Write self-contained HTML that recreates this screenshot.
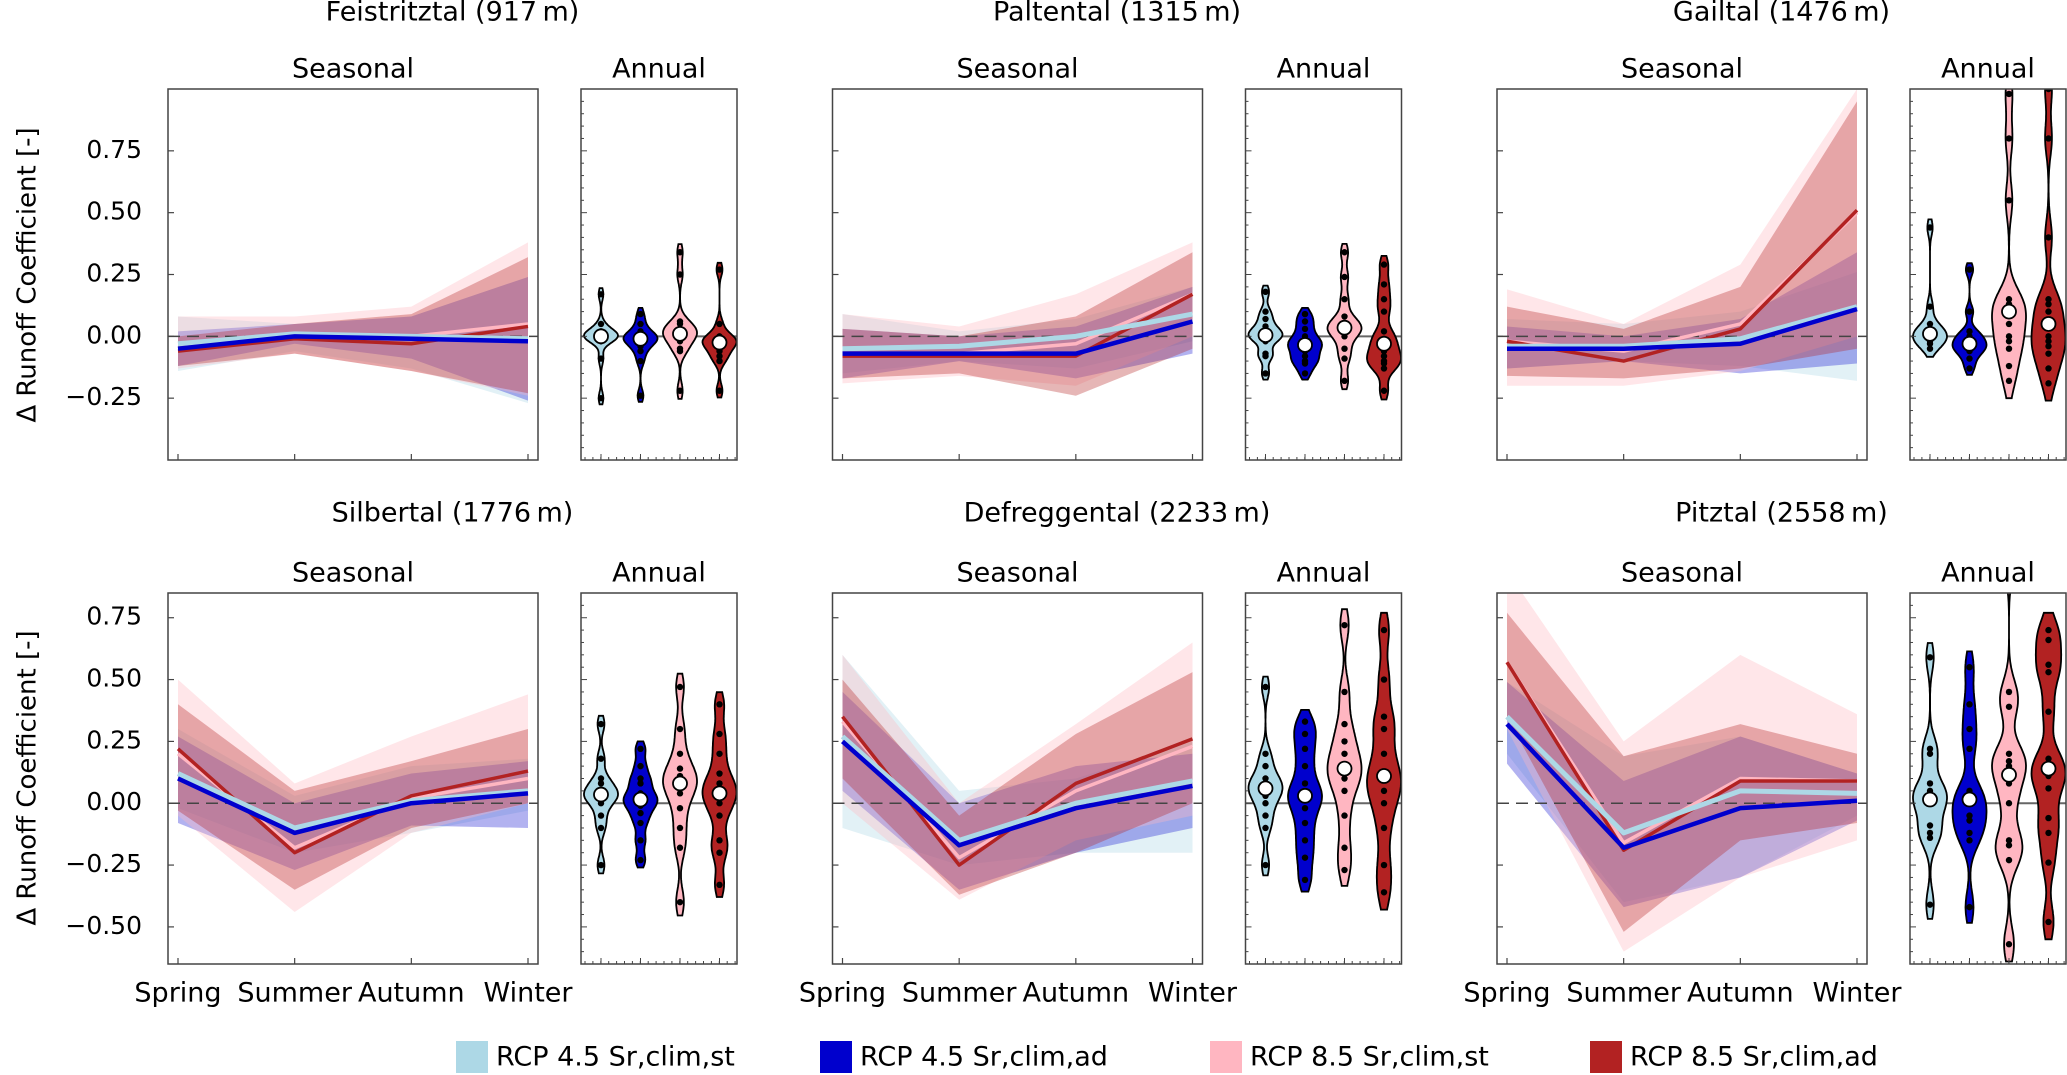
<!DOCTYPE html>
<html><head><meta charset="utf-8">
<style>
html,body{margin:0;padding:0;background:#fff;}
svg{display:block;font-family:"DejaVu Sans","Liberation Sans",sans-serif;}
</style></head>
<body>
<svg id="chart" width="2067" height="1075" viewBox="0 0 2067 1075" xmlns="http://www.w3.org/2000/svg">
<text x="0" y="0" transform="translate(28,275) rotate(-90)" font-size="26" text-anchor="middle" dominant-baseline="middle">Δ Runoff Coefficient [-]</text>
<text x="0" y="0" transform="translate(28,778) rotate(-90)" font-size="26" text-anchor="middle" dominant-baseline="middle">Δ Runoff Coefficient [-]</text>
<g id="legend">
<g><rect x="456" y="1041" width="32" height="32" fill="#add8e6"/><text x="496" y="1058" font-size="27" dominant-baseline="middle">RCP 4.5 Sr,clim,st</text></g>
<g><rect x="820" y="1041" width="32" height="32" fill="#0000cd"/><text x="860" y="1058" font-size="27" dominant-baseline="middle">RCP 4.5 Sr,clim,ad</text></g>
<g><rect x="1210" y="1041" width="32" height="32" fill="#ffb6c1"/><text x="1250" y="1058" font-size="27" dominant-baseline="middle">RCP 8.5 Sr,clim,st</text></g>
<g><rect x="1590" y="1041" width="32" height="32" fill="#b22222"/><text x="1630" y="1058" font-size="27" dominant-baseline="middle">RCP 8.5 Sr,clim,ad</text></g>
</g>
</svg>
<script>
const seasons = ['Spring','Summer','Autumn','Winter'];
const seriesColors = ['#add8e6','#0000cd','#ffb6c1','#b22222'];
const panelTitles = ['Feistritztal (917\u2009m)','Paltental (1315\u2009m)','Gailtal (1476\u2009m)','Silbertal (1776\u2009m)','Defreggental (2233\u2009m)','Pitztal (2558\u2009m)'];
const ticksTop = [0.75,0.5,0.25,0,-0.25];
const ticksBottom = [0.75,0.5,0.25,0,-0.25,-0.5];
const tickLabelsTop = ['0.75','0.50','0.25','0.00','\u22120.25'];
const tickLabelsBottom = ['0.75','0.50','0.25','0.00','\u22120.25','\u22120.50'];

// series order: light blue (4.5 st), blue (4.5 ad), pink (8.5 st), red (8.5 ad)
const feistritzMedian = [[-0.03,0.01,0.0,-0.01],[-0.05,0.0,-0.01,-0.02],[-0.03,0.0,0.0,0.05],[-0.06,-0.01,-0.03,0.04]];
const feistritzLow = [[-0.14,-0.06,-0.13,-0.27],[-0.12,-0.03,-0.09,-0.26],[-0.13,-0.07,-0.14,-0.24],[-0.12,-0.07,-0.14,-0.23]];
const feistritzHigh = [[0.08,0.05,0.08,0.24],[0.02,0.05,0.08,0.24],[0.08,0.08,0.12,0.38],[0.0,0.05,0.09,0.32]];
const paltenMedian = [[-0.05,-0.04,0.0,0.09],[-0.07,-0.07,-0.07,0.06],[-0.07,-0.07,-0.03,0.17],[-0.08,-0.08,-0.08,0.17]];
const paltenLow = [[-0.15,-0.1,-0.13,-0.02],[-0.17,-0.1,-0.17,-0.07],[-0.19,-0.16,-0.2,0.0],[-0.17,-0.15,-0.24,-0.05]];
const paltenHigh = [[0.09,0.02,0.07,0.2],[0.03,0.0,0.04,0.2],[0.09,0.04,0.17,0.38],[0.03,0.0,0.08,0.34]];
const gailMedian = [[-0.04,-0.04,-0.01,0.12],[-0.05,-0.05,-0.03,0.11],[-0.02,-0.06,0.05,0.5],[-0.02,-0.1,0.03,0.51]];
const gailLow = [[-0.13,-0.1,-0.12,-0.18],[-0.13,-0.1,-0.15,-0.11],[-0.2,-0.2,-0.14,0.0],[-0.16,-0.17,-0.13,-0.05]];
const gailHigh = [[0.07,0.05,0.1,0.26],[0.04,0.0,0.07,0.34],[0.19,0.05,0.29,1.0],[0.12,0.03,0.2,0.95]];
const silberMedian = [[0.12,-0.1,0.01,0.05],[0.1,-0.12,0.0,0.04],[0.2,-0.18,0.02,0.1],[0.22,-0.2,0.03,0.13]];
const silberLow = [[-0.02,-0.2,-0.12,-0.03],[-0.08,-0.27,-0.09,-0.1],[-0.05,-0.44,-0.12,0.0],[-0.03,-0.35,-0.1,0.0]];
const silberHigh = [[0.3,0.03,0.15,0.18],[0.27,0.0,0.12,0.17],[0.5,0.08,0.27,0.44],[0.4,0.05,0.17,0.3]];
const defregMedian = [[0.27,-0.15,0.0,0.09],[0.25,-0.17,-0.02,0.07],[0.33,-0.22,0.05,0.23],[0.35,-0.25,0.08,0.26]];
const defregLow = [[-0.1,-0.25,-0.2,-0.2],[0.05,-0.35,-0.2,-0.1],[0.0,-0.39,-0.15,-0.05],[0.1,-0.37,-0.2,0.0]];
const defregHigh = [[0.6,0.05,0.1,0.25],[0.45,0.0,0.15,0.2],[0.6,0.0,0.32,0.65],[0.5,-0.05,0.28,0.53]];
const pitzMedian = [[0.35,-0.12,0.05,0.04],[0.32,-0.18,-0.02,0.01],[0.57,-0.16,0.1,0.09],[0.57,-0.19,0.09,0.09]];
const pitzLow = [[0.2,-0.4,-0.3,-0.05],[0.16,-0.42,-0.3,-0.07],[0.3,-0.6,-0.3,-0.15],[0.35,-0.52,-0.15,-0.08]];
const pitzHigh = [[0.49,0.19,0.27,0.12],[0.49,0.09,0.27,0.12],[0.94,0.25,0.6,0.36],[0.77,0.19,0.32,0.2]];

const feistritzAnnual = [[-0.25,-0.09,-0.02,-0.01,0,0,0,0.01,0.01,0.02,0.05,0.17],[-0.24,-0.1,-0.06,-0.04,-0.02,-0.01,-0.01,0,0,0.02,0.05,0.09],[-0.22,-0.06,-0.05,-0.02,0,0.01,0.01,0.02,0.03,0.05,0.06,0.25,0.34],[-0.22,-0.1,-0.08,-0.06,-0.04,-0.03,-0.02,-0.01,-0.01,0,0.05,0.27]];
const paltenAnnual = [[-0.15,-0.08,-0.07,-0.02,0,0,0.01,0.02,0.04,0.07,0.1,0.18],[-0.15,-0.11,-0.1,-0.08,-0.06,-0.04,-0.03,-0.02,0,0.03,0.06,0.09],[-0.18,-0.09,-0.05,0,0.02,0.03,0.04,0.05,0.08,0.15,0.24,0.34],[-0.22,-0.13,-0.11,-0.1,-0.08,-0.06,-0.03,-0.01,0.02,0.1,0.15,0.21,0.29]];
const gailAnnual = [[-0.05,-0.03,-0.02,-0.01,0,0.01,0.02,0.03,0.05,0.12,0.44],[-0.13,-0.09,-0.06,-0.05,-0.04,-0.03,-0.01,0,0.02,0.1,0.27],[-0.18,-0.12,-0.05,-0.02,0,0.05,0.1,0.12,0.13,0.15,0.55,0.8,0.98],[-0.19,-0.13,-0.07,-0.04,-0.02,0,0.05,0.1,0.13,0.15,0.4,0.8,1.0]];
const silberAnnual = [[-0.25,-0.1,-0.05,0,0.02,0.03,0.04,0.05,0.08,0.1,0.18,0.32],[-0.23,-0.15,-0.08,-0.04,-0.01,0.01,0.02,0.04,0.08,0.1,0.15,0.22],[-0.4,-0.18,-0.1,-0.02,0.04,0.07,0.09,0.11,0.14,0.2,0.3,0.47],[-0.33,-0.2,-0.15,-0.05,0,0.03,0.05,0.08,0.12,0.2,0.28,0.4]];
const defregAnnual = [[-0.25,-0.1,-0.05,0,0.03,0.05,0.07,0.08,0.1,0.15,0.2,0.47],[-0.31,-0.22,-0.15,-0.08,-0.02,0.02,0.04,0.08,0.15,0.22,0.28,0.33],[-0.27,-0.18,-0.05,0.05,0.1,0.13,0.15,0.2,0.25,0.32,0.45,0.72],[-0.36,-0.25,-0.1,0.0,0.05,0.1,0.12,0.2,0.3,0.35,0.5,0.7]];
const pitzAnnual = [[-0.41,-0.14,-0.12,-0.09,0.0,0.01,0.02,0.05,0.08,0.2,0.22,0.59],[-0.42,-0.15,-0.12,-0.07,-0.05,0,0.03,0.05,0.22,0.3,0.4,0.55],[-0.57,-0.23,-0.17,-0.15,0.0,0.08,0.15,0.17,0.2,0.39,0.45,0.97],[-0.48,-0.24,-0.12,-0.06,0.06,0.11,0.14,0.18,0.37,0.53,0.56,0.66,0.7]];

const panelMedians = [feistritzMedian,paltenMedian,gailMedian,silberMedian,defregMedian,pitzMedian];
const panelLows = [feistritzLow,paltenLow,gailLow,silberLow,defregLow,pitzLow];
const panelHighs = [feistritzHigh,paltenHigh,gailHigh,silberHigh,defregHigh,pitzHigh];
const panelAnnual = [feistritzAnnual,paltenAnnual,gailAnnual,silberAnnual,defregAnnual,pitzAnnual];

const NS = 'http://www.w3.org/2000/svg';
const svg = document.getElementById('chart');
const rowTops = [89,593];
const AX_H = 371, SEAS_W = 370, ANN_W = 156;
const yLims = [[-0.5,1.0],[-0.65,0.85]];
function mk(tag, attrs, parent){const e=document.createElementNS(NS,tag);for(const k in attrs)e.setAttribute(k,attrs[k]);(parent||svg).appendChild(e);return e;}
function yScale(v,row){const [a,b]=yLims[row];return rowTops[row]+(b-v)/(b-a)*AX_H;}
function seasLeft(col){return 168+col*664.5;}
function xSeason(i,col){return seasLeft(col)+10+i*(SEAS_W-20)/(seasons.length-1);}
function xViolin(k,col){return seasLeft(col)+413+20+k*39.5;}

function kdePath(samples,cx,row,halfMax){
  const n=samples.length;const mean=samples.reduce((a,b)=>a+b,0)/n;
  const sd=Math.sqrt(samples.reduce((a,b)=>a+(b-mean)*(b-mean),0)/n);
  const bw=Math.min(0.07,Math.max(0.025,0.25*sd));
  const lo=Math.min(...samples)-bw, hi=Math.max(...samples)+bw;
  const steps=140;const pts=[];let maxd=0;
  for(let i=0;i<=steps;i++){const v=lo+(hi-lo)*i/steps;let d=0;for(const s of samples){const z=(v-s)/bw;d+=Math.exp(-0.5*z*z);}pts.push([v,d]);if(d>maxd)maxd=d;}
  let right='',left='';
  pts.forEach((p,i)=>{const w=p[1]/maxd*halfMax;const y=yScale(p[0],row);right+=(i?'L':'M')+(cx+w).toFixed(1)+','+y.toFixed(1);});
  for(let i=pts.length-1;i>=0;i--){const w=pts[i][1]/maxd*halfMax;left+='L'+(cx-w).toFixed(1)+','+yScale(pts[i][0],row).toFixed(1);}
  return right+left+'Z';
}
function median(a){const s=[...a].sort((x,y)=>x-y);const m=s.length>>1;return s.length%2?s[m]:(s[m-1]+s[m])/2;}

for(let p=0;p<6;p++){
  const row=Math.floor(p/3), col=p%3;
  const top=rowTops[row], sl=seasLeft(col), al=sl+413;
  const g=mk('g',{});
  
  
  const t=mk('text',{x:(sl+al+ANN_W)/2,y:row?514:13,'font-size':27,'text-anchor':'middle','dominant-baseline':'middle'},g);
  t.textContent=panelTitles[p];
  
  
  const st=mk('text',{x:sl+SEAS_W/2,y:top-19,'font-size':27,'text-anchor':'middle','dominant-baseline':'middle'},g);
  st.textContent='Seasonal';
  
  
  const at=mk('text',{x:al+ANN_W/2,y:top-19,'font-size':27,'text-anchor':'middle','dominant-baseline':'middle'},g);
  at.textContent='Annual';
  
  
  const cp1=mk('clipPath',{id:'cs'+p},g);mk('rect',{x:sl,y:top,width:SEAS_W,height:AX_H},cp1);
  const cp2=mk('clipPath',{id:'ca'+p},g);mk('rect',{x:al,y:top,width:ANN_W,height:AX_H},cp2);
  const sg=mk('g',{'clip-path':'url(#cs'+p+')'},g);
  
  
  const alphas=[0.35,0.3,0.35,0.33];
  for(let s=0;s<4;s++){
    let d='';
    for(let i=0;i<4;i++)d+=(i?'L':'M')+xSeason(i,col)+','+yScale(panelHighs[p][s][i],row);
    for(let i=3;i>=0;i--)d+='L'+xSeason(i,col)+','+yScale(panelLows[p][s][i],row);
    const band=mk('path',{d:d+'Z',fill:seriesColors[s],'fill-opacity':alphas[s]},sg);
    
    
  }
  const zl=mk('line',{x1:sl,x2:sl+SEAS_W,y1:yScale(0,row),y2:yScale(0,row),stroke:'#444','stroke-width':1.5,'stroke-dasharray':'12,7'},sg);
  
  
  const lineOrder=[2,3,0,1], lw=[5,4.5,3.5,3.5];
  for(const s of lineOrder){
    let d='';
    for(let i=0;i<4;i++)d+=(i?'L':'M')+xSeason(i,col)+','+yScale(panelMedians[p][s][i],row);
    const ln=mk('path',{d:d,fill:'none',stroke:seriesColors[s],'stroke-width':lw[s],'stroke-linejoin':'round'},sg);
    
    
  }
  mk('rect',{x:sl,y:top,width:SEAS_W,height:AX_H,fill:'none',stroke:'#444','stroke-width':1.5},g);
  const ticks=row?ticksBottom:ticksTop, labels=row?tickLabelsBottom:tickLabelsTop;
  ticks.forEach((v,i)=>{
    const y=yScale(v,row);
    mk('line',{x1:sl,x2:sl+6,y1:y,y2:y,stroke:'#444','stroke-width':1.2},g);
    if(col===0){const tl=mk('text',{x:sl-26,y:y,'font-size':25,'text-anchor':'end','dominant-baseline':'middle'},g);tl.textContent=labels[i];
      
      }
  });
  seasons.forEach((s,i)=>{
    const x=xSeason(i,col);
    mk('line',{x1:x,x2:x,y1:top+AX_H,y2:top+AX_H-6,stroke:'#444','stroke-width':1.2},g);
    if(row===1){const xl=mk('text',{x:x,y:994,'font-size':27,'text-anchor':'middle','dominant-baseline':'middle'},g);xl.textContent=s;
      
      }
  });
  const ag=mk('g',{'clip-path':'url(#ca'+p+')'},g);
  
  
  mk('line',{x1:al,x2:al+ANN_W,y1:yScale(0,row),y2:yScale(0,row),stroke:'#666','stroke-width':2},ag);
  for(let k=0;k<4;k++){
    const cx=xViolin(k,col), smp=panelAnnual[p][k];
    const v=mk('path',{d:kdePath(smp,cx,row,17),fill:seriesColors[k],stroke:'#000','stroke-width':1.8},ag);
    
    
    for(const s of smp)mk('circle',{cx:cx,cy:yScale(s,row),r:3.2,fill:'#000'},ag);
    const m=mk('circle',{cx:cx,cy:yScale(median(smp),row),r:7,fill:'#fff',stroke:'#000','stroke-width':1.8},ag);
    
    
  }
  mk('rect',{x:al,y:top,width:ANN_W,height:AX_H,fill:'none',stroke:'#444','stroke-width':1.5},g);
  const [ya,yb]=yLims[row];
  for(let v=Math.ceil(ya/0.05)*0.05;v<=yb+1e-9;v+=0.05){
    const y=yScale(v,row);const major=Math.abs(v/0.25-Math.round(v/0.25))<1e-6;
    mk('line',{x1:al,x2:al+(major?6:3),y1:y,y2:y,stroke:'#444','stroke-width':1},g);
  }
  for(let x=al+4;x<al+ANN_W;x+=7.9){mk('line',{x1:x,x2:x,y1:top+AX_H,y2:top+AX_H-3,stroke:'#444','stroke-width':1},g);}
  for(let k=0;k<4;k++){const x=xViolin(k,col);mk('line',{x1:x,x2:x,y1:top+AX_H,y2:top+AX_H-6,stroke:'#444','stroke-width':1},g);}
}
</script>
</body></html>
